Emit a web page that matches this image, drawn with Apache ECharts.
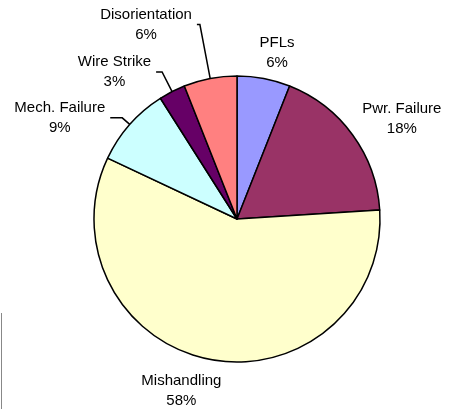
<!DOCTYPE html>
<html>
<head>
<meta charset="utf-8">
<script src="https://cdn.jsdelivr.net/npm/echarts@6/dist/echarts.min.js"></script>
<style>
  html, body { margin: 0; padding: 0; background: #fff; }
  #chart { width: 449px; height: 409px; }
</style>
</head>
<body>
<div id="chart"></div>
<script>
const categories = ['PFLs', 'Pwr. Failure', 'Mishandling', 'Mech. Failure', 'Wire Strike', 'Disorientation']
const shares = [6, 18, 58, 9, 3, 6]
const colors = ['#9999ff', '#993366', '#ffffcc', '#ccffff', '#660066', '#ff8080']

// leader line lengths per slice (Excel style: only the small left slices get a line)
const leaders = [
  { show: false, length: 25, length2: 0 },
  { show: false, length: 18, length2: 0 },
  { show: false, length: 31, length2: 0 },
  { show: true, length: 10, length2: 12 },
  { show: true, length: 22, length2: 6 },
  { show: true, length: 55, length2: 3 }
]
// nudges for the labels without a leader line
const nudges = [
  { dx: -14, dy: -1 },
  { dx: -10, dy: -6 },
  { dx: 22, dy: 1 },
  null,
  null,
  null
]

const chart = echarts.init(document.getElementById('chart'))

const data = categories.map((name, i) => ({
  name,
  value: shares[i],
  itemStyle: { color: colors[i] },
  labelLine: leaders[i]
}))

chart.setOption({
  animation: false,
  backgroundColor: '#fff',
  graphic: [
    {
      type: 'line',
      shape: { x1: 1.5, y1: 313, x2: 1.5, y2: 409 },
      style: { stroke: '#888', lineWidth: 1 }
    }
  ],
  series: [
    {
      type: 'pie',
      center: [237, 219],
      radius: 143,
      startAngle: 90,
      clockwise: true,
      avoidLabelOverlap: false,
      silent: true,
      data,
      itemStyle: { borderColor: '#000', borderWidth: 1.5 },
      label: {
        show: true,
        position: 'outside',
        formatter: p => `{t|${p.name}}\n{t|${p.value}%}`,
        rich: {
          t: {
            align: 'center',
            fontFamily: '"Liberation Sans", Arial, sans-serif',
            fontSize: 15,
            lineHeight: 20,
            color: '#000'
          }
        }
      },
      labelLayout: p => nudges[p.dataIndex] || {},
      labelLine: {
        lineStyle: { color: '#000', width: 1.5 }
      }
    }
  ]
})
</script>
</body>
</html>
